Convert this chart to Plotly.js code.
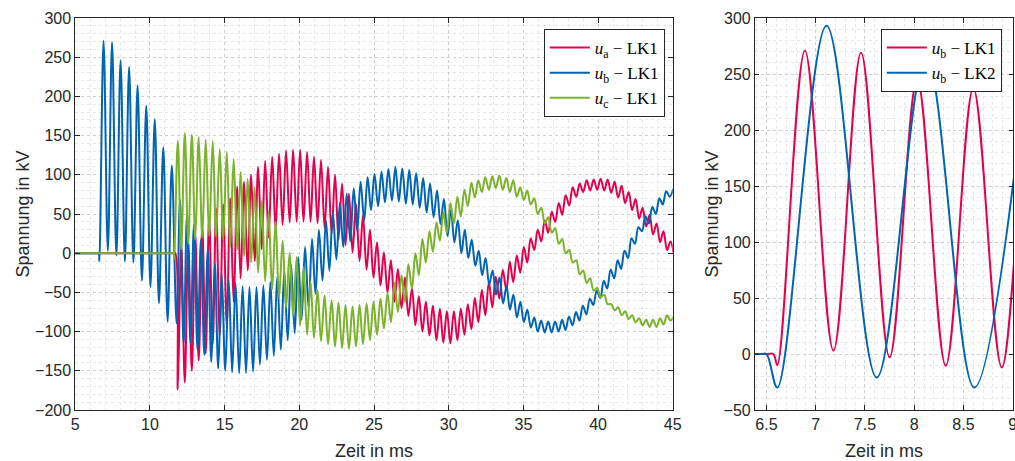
<!DOCTYPE html>
<html>
<head>
<meta charset="utf-8">
<script src="https://cdn.plot.ly/plotly-3.0.1.min.js"></script>
<style>html,body{margin:0;padding:0;overflow:hidden;background:#fff}</style>
</head>
<body>
<div id="chart" style="width:1015px;height:461px"></div>
<script>
// ---- data (extrema of the oscillations, ms / kV) ----
// u_b LK1 before the other phases close
var tEarlyB = [5, 6.5, 6.57, 6.61, 6.89, 7.18, 7.46, 7.75, 8.03, 8.32, 8.60, 8.89, 9.17, 9.46, 9.75, 10.03, 10.32, 10.60, 10.89, 11.18, 11.46];
var vEarlyB = [0, 0, 0, -10, 271, 3, 269, -3, 246, -10.5, 237.5, -12, 214, -35, 188, -43, 171, -64, 135, -87, 112];

// u_b LK1 after closing of all phases
var tB = [11.78, 12.01, 12.25, 12.48, 12.71, 12.94, 13.18, 13.41, 13.64, 13.87,
  14.11, 14.34, 14.57, 14.80, 15.04, 15.27, 15.50, 15.73, 15.97, 16.20,
  16.43, 16.66, 16.90, 17.13, 17.36, 17.59, 17.83, 18.06, 18.29, 18.52,
  18.76, 18.99, 19.22, 19.45, 19.69, 19.92, 20.15, 20.38, 20.62, 20.85,
  21.08, 21.31, 21.55, 21.78, 22.01, 22.24, 22.48, 22.71, 22.94, 23.17,
  23.41, 23.64, 23.87, 24.10, 24.34, 24.57, 24.80, 25.03, 25.27, 25.50,
  25.73, 25.96, 26.20, 26.43, 26.66, 26.89, 27.13, 27.36, 27.59, 27.82,
  28.06, 28.29, 28.52, 28.75, 28.99, 29.22, 29.45, 29.68, 29.92, 30.15,
  30.38, 30.61, 30.85, 31.08, 31.31, 31.54, 31.78, 32.01, 32.24, 32.47,
  32.71, 32.94, 33.17, 33.40, 33.64, 33.87, 34.10, 34.33, 34.57, 34.80,
  35.03, 35.26, 35.50, 35.73, 35.96, 36.19, 36.43, 36.66, 36.89, 37.12,
  37.36, 37.59, 37.82, 38.05, 38.29, 38.52, 38.75, 38.98, 39.22, 39.45,
  39.68, 39.91, 40.15, 40.38, 40.61, 40.84, 41.08, 41.31, 41.54, 41.77,
  42.01, 42.24, 42.47, 42.70, 42.94, 43.17, 43.40, 43.63, 43.87, 44.10,
  44.33, 44.56, 44.80, 45.03];
var vB = [-89.5, 68, -115, 50, -115, 36, -123, 17, -130, 4,
  -139, -13, -147, -26, -150, -34, -152, -38, -153, -42,
  -153, -43, -151, -43, -142, -41, -136, -37, -131, -30,
  -123, -22, -111, -15, -102, -5, -85, 8, -70, 18,
  -52, 30, -35, 42, -22, 52, -8, 64, 8, 76,
  15, 83, 28, 91, 42, 97, 55, 101, 60, 104,
  65, 107, 67, 110, 66, 108, 63, 106, 62, 102,
  58, 96, 52, 89, 46, 80, 37, 69, 22, 55,
  14, 42, 0, 30, -6, 17, -16, 3, -28, -6,
  -40, -22, -53, -31, -64, -42, -72, -53, -82, -62,
  -88, -72, -95, -82, -100, -86, -101, -87, -101, -87,
  -100, -85, -98, -81, -92, -75, -86, -67, -78, -58,
  -66, -48, -57, -35, -45, -21, -32, -9, -20, 3,
  -6, 19, 12, 33, 28, 47, 38, 59, 50, 70,
  62, 79, 72, 82];

// u_a and u_c (shared extremum times)
var tRedPre = [5, 11.6, 11.70];
var vRedPre = [0, 0, 0];
var tGreenPre = [5, 11.5, 11.58, 11.62];
var vGreenPre = [0, 0, 0, -8];
var tRG = [11.86, 12.09, 12.33, 12.56, 12.80, 13.03, 13.26, 13.50, 13.73, 13.96,
  14.20, 14.43, 14.67, 14.90, 15.14, 15.37, 15.60, 15.84, 16.07, 16.30,
  16.54, 16.77, 17.01, 17.24, 17.48, 17.71, 17.94, 18.18, 18.41, 18.64,
  18.88, 19.11, 19.35, 19.58, 19.82, 20.05, 20.28, 20.52, 20.75, 20.98,
  21.22, 21.45, 21.69, 21.92, 22.16, 22.39, 22.62, 22.86, 23.09, 23.32,
  23.56, 23.79, 24.03, 24.26, 24.50, 24.73, 24.96, 25.20, 25.43, 25.66,
  25.90, 26.13, 26.37, 26.60, 26.84, 27.07, 27.30, 27.54, 27.77, 28.00,
  28.24, 28.47, 28.71, 28.94, 29.18, 29.41, 29.64, 29.88, 30.11, 30.35,
  30.58, 30.81, 31.05, 31.28, 31.52, 31.75, 31.98, 32.22, 32.45, 32.69,
  32.92, 33.15, 33.39, 33.62, 33.86, 34.09, 34.32, 34.56, 34.79, 35.03,
  35.26, 35.49, 35.73, 35.96, 36.20, 36.43, 36.66, 36.90, 37.13, 37.37,
  37.60, 37.83, 38.07, 38.30, 38.54, 38.77, 39.00, 39.24, 39.47, 39.71,
  39.94, 40.17, 40.41, 40.64, 40.88, 41.11, 41.34, 41.58, 41.81, 42.05,
  42.28, 42.51, 42.75, 42.98, 43.22, 43.45, 43.68, 43.92, 44.15, 44.38,
  44.62, 44.85, 45.09];
var vRed = [-174, 10, -165, 16, -150, 25, -137, 34, -128, 45,
  -116, 57, -104, 62, -92, 70, -62, 85, -32, 91,
  -22, 100, -10, 110, 5, 118, 20, 123, 30, 127,
  36, 131, 39, 132, 40, 132, 40, 129, 40, 123,
  38, 119, 32, 110, 25, 100, 17, 89, 10, 76,
  1, 63, -10, 48, -21, 30, -31, 14, -41, 1,
  -50, -9, -62, -20, -70, -31, -80, -45, -92, -55,
  -100, -62, -105, -67, -111, -71, -114, -74, -115, -74,
  -111, -71, -104, -65, -97, -57, -88, -47, -79, -37,
  -69, -30, -58, -21, -47, -11, -37, -3, -25, 8,
  -12, 19, 4, 30, 15, 42, 26, 53, 40, 64,
  49, 74, 61, 84, 72, 89, 78, 93, 80, 94,
  81, 95, 80, 94, 77, 91, 71, 86, 64, 78,
  55, 69, 44, 58, 34, 49, 24, 38, 14, 28,
  4, 15, -4];
var vGreen = [143, 5, 153, 12, 151, 17, 148, 20, 145, 22,
  143, 21, 133, 17, 129, 8, 120, 4, 104, -4,
  95, -12, 84, -25, 67, -36, 53, -46, 40, -57,
  16, -70, 1, -80, -5, -92, -18, -104, -36, -108,
  -47, -112, -54, -116, -60, -119, -63, -121, -66, -122,
  -68, -119, -66, -116, -64, -111, -62, -104, -58, -96,
  -51, -88, -38, -75, -28, -62, -14, -45, 0, -28,
  18, -12, 28, 2, 39, 16, 52, 26, 64, 38,
  72, 47, 81, 60, 90, 71, 93, 78, 97, 81,
  98, 83, 99, 81, 96, 78, 93, 72, 84, 68,
  80, 62, 70, 50, 58, 38, 46, 26, 32, 12,
  18, 0, 4, -12, -9, -27, -22, -38, -32, -48,
  -44, -56, -53, -65, -65, -73, -69, -79, -74, -84,
  -79, -88, -83, -92, -85, -94, -85, -94, -83, -91,
  -79, -86, -80];

// right panel: u_b LK2
var tLK2 = [6.3, 6.45, 6.50, 6.61, 7.11, 7.62, 8.12, 8.61, 9.12];
var vLK2 = [0, 0, 0, -30, 293, -21, 266, -30, 237];

var names = ['<i>u</i><sub>a</sub> − LK1', '<i>u</i><sub>b</sub> − LK1', '<i>u</i><sub>c</sub> − LK1', '<i>u</i><sub>b</sub> − LK2'];

// ---- styling ----
var RED = '#e6004c', BLUE = '#0064b4', GREEN = '#7ab22a';
var txt = '#262626';
function ln(c, w) { return {color: c, width: w, shape: 'spline', smoothing: 1}; }

var traces = [
  {x: tRedPre.concat(tRG), y: vRedPre.concat(vRed), name: names[0], mode: 'lines', line: ln(RED, 2), xaxis: 'x', yaxis: 'y', legend: 'legend'},
  {x: tEarlyB.concat(tB), y: vEarlyB.concat(vB), name: names[1], mode: 'lines', line: ln(BLUE, 2), xaxis: 'x', yaxis: 'y', legend: 'legend'},
  {x: tGreenPre.concat(tRG), y: vGreenPre.concat(vGreen), name: names[2], mode: 'lines', line: ln(GREEN, 2), xaxis: 'x', yaxis: 'y', legend: 'legend'},
  {x: tEarlyB, y: vEarlyB, name: names[1], mode: 'lines', line: ln(RED, 2), xaxis: 'x2', yaxis: 'y2', legend: 'legend2'},
  {x: tLK2, y: vLK2, name: names[3], mode: 'lines', line: ln(BLUE, 2), xaxis: 'x2', yaxis: 'y2', legend: 'legend2'}
];

function ax(extra) {
  var base = {
    showline: true, linecolor: txt, linewidth: 1, mirror: 'ticks',
    ticks: 'inside', ticklen: 5, tickcolor: txt, tickwidth: 1,
    showgrid: true, gridcolor: '#cfcfcf', griddash: 'dot', gridwidth: 1,
    zeroline: false, tickfont: {size: 16, color: txt},
    ticklabeloverflow: 'allow',
    fixedrange: true
  };
  for (var k in extra) base[k] = extra[k];
  return base;
}
var minorStyle = function (d) { return {dtick: d, showgrid: true, gridcolor: '#e6e6e6', griddash: 'dot', gridwidth: 1, ticks: ''}; };

var legendStyle = {
  bgcolor: '#ffffff', bordercolor: txt, borderwidth: 1,
  font: {family: 'Liberation Serif, DejaVu Serif, serif', size: 17, color: '#000'},
  xanchor: 'right', yanchor: 'top', itemwidth: 40, tracegroupgap: 0
};
function legendAt(x, y) { var o = {}; for (var k in legendStyle) o[k] = legendStyle[k]; o.x = x; o.y = y; return o; }

var layout = {
  width: 1015, height: 461,
  margin: {l: 0, r: 0, t: 18, b: 51, pad: 0},
  paper_bgcolor: '#fff', plot_bgcolor: '#fff',
  font: {family: 'Liberation Sans, Arial, sans-serif', color: txt},
  showlegend: true,
  xaxis: ax({domain: [0.0742, 0.6628], range: [5, 45], tick0: 0, dtick: 5, anchor: 'y', minor: minorStyle(1),
    title: {text: 'Zeit in ms', font: {size: 18, color: txt}, standoff: 12}}),
  yaxis: ax({domain: [0, 1], range: [-200, 300], tick0: 0, dtick: 50, anchor: 'x', minor: minorStyle(10),
    title: {text: 'Spannung in kV', font: {size: 18, color: txt}, standoff: 0}}),
  xaxis2: ax({domain: [0.7438, 0.998], range: [6.383, 9.003], tick0: 0, dtick: 0.5, anchor: 'y2', minor: minorStyle(0.1),
    title: {text: 'Zeit in ms', font: {size: 18, color: txt}, standoff: 12}}),
  yaxis2: ax({domain: [0, 1], range: [-50, 300], tick0: 0, dtick: 50, anchor: 'x2', minor: minorStyle(10), ticklen: 4,
    title: {text: 'Spannung in kV', font: {size: 18, color: txt}, standoff: 0}}),
  legend: legendAt(0.655, 0.972),
  legend2: legendAt(0.987, 0.972)
};

Plotly.newPlot('chart', traces, layout, {staticPlot: true, displayModeBar: false});
</script>
</body>
</html>
